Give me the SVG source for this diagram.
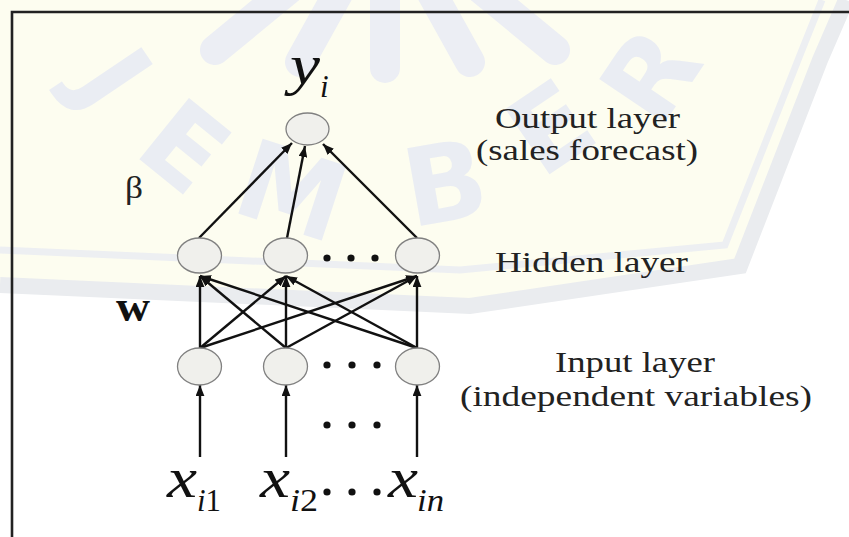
<svg xmlns="http://www.w3.org/2000/svg" width="849" height="537" viewBox="0 0 849 537">
<defs>
<style>
.wm{font-family:"DejaVu Sans","Liberation Sans",sans-serif;font-weight:bold;font-size:108px;fill:#eaedf3;text-anchor:middle}
.ray{stroke:#eceef4;stroke-width:30;stroke-linecap:round;fill:none}
.node{fill:#f0f0ec;stroke:#808080;stroke-width:1.3}
.edge{stroke:#111;stroke-width:2.4;fill:none;marker-end:url(#ah)}
.dot{fill:#111}
.lbl{font-family:"Liberation Serif","Times New Roman",serif;font-size:28.5px;fill:#222}
.math{font-family:"Liberation Serif","Times New Roman",serif;font-style:italic;fill:#111}
</style>
<marker id="ah" viewBox="0 0 10 8" refX="10" refY="4" markerWidth="11" markerHeight="9" markerUnits="userSpaceOnUse" orient="auto">
<path d="M0,0 L10,4 L0,8 z" fill="#111"/>
</marker>
</defs>
<rect width="849" height="537" fill="#ffffff"/>
<g id="watermark">
<path d="M0,0 L846,0 L820,60 L740,266 L470,306 L0,285 Z" fill="#fdfdf0"/>
<path d="M846,0 L820,60 L740,266 L470,306 L0,285" fill="none" stroke="#eaecef" stroke-width="16"/>
<path d="M822,0 L800,55 L725,245 L460,270 L0,250" fill="none" stroke="#edeff2" stroke-width="7"/>
<line class="ray" x1="300" y1="-20" x2="215" y2="50"/>
<line class="ray" x1="340" y1="-10" x2="300" y2="62"/>
<line class="ray" x1="385" y1="-10" x2="385" y2="68"/>
<line class="ray" x1="430" y1="-10" x2="470" y2="62"/>
<line class="ray" x1="470" y1="-20" x2="555" y2="50"/>
<text class="wm" transform="translate(114,78) rotate(56)" dy="0.36em">J</text>
<text class="wm" transform="translate(185,146) rotate(39)" dy="0.36em">E</text>
<text class="wm" transform="translate(292,190) rotate(18)" dy="0.36em">M</text>
<text class="wm" transform="translate(445,182) rotate(-10)" dy="0.36em">B</text>
<text class="wm" transform="translate(550,127) rotate(-34)" dy="0.36em">E</text>
<text class="wm" transform="translate(650,75) rotate(-56)" dy="0.36em">R</text>
</g>
<path id="frame" d="M12,537 L12,12 L849,12" fill="none" stroke="#222" stroke-width="2.6"/>
<g id="connectors">
<line class="edge" x1="199" y1="238" x2="292" y2="143"/>
<line class="edge" x1="287" y1="238" x2="305" y2="146"/>
<line class="edge" x1="417" y1="238" x2="323" y2="144"/>
<line class="edge" x1="200" y1="348" x2="200" y2="276"/>
<line class="edge" x1="286" y1="348" x2="200" y2="276"/>
<line class="edge" x1="417" y1="348" x2="200" y2="276"/>
<line class="edge" x1="200" y1="348" x2="286" y2="276"/>
<line class="edge" x1="286" y1="348" x2="286" y2="276"/>
<line class="edge" x1="417" y1="348" x2="286" y2="276"/>
<line class="edge" x1="200" y1="348" x2="417" y2="276"/>
<line class="edge" x1="286" y1="348" x2="417" y2="276"/>
<line class="edge" x1="417" y1="348" x2="417" y2="276"/>
<line class="edge" x1="200" y1="457" x2="200" y2="385"/>
<line class="edge" x1="286" y1="457" x2="286" y2="385"/>
<line class="edge" x1="417" y1="457" x2="417" y2="385"/>
</g>
<g id="node-output"><ellipse class="node" cx="307.5" cy="129" rx="21.5" ry="16"/></g>
<g id="node-hidden-1"><ellipse class="node" cx="199.5" cy="255.5" rx="22" ry="17.5"/></g>
<g id="node-hidden-2"><ellipse class="node" cx="285.5" cy="255.5" rx="22" ry="17.5"/></g>
<g id="node-hidden-n"><ellipse class="node" cx="417.5" cy="255.5" rx="22" ry="17.5"/></g>
<g id="node-input-1"><ellipse class="node" cx="199.5" cy="366.5" rx="22" ry="18.5"/></g>
<g id="node-input-2"><ellipse class="node" cx="285.5" cy="366.5" rx="22" ry="18.5"/></g>
<g id="node-input-n"><ellipse class="node" cx="417.5" cy="366.5" rx="22" ry="18.5"/></g>
<g id="ellipses">
<circle class="dot" cx="327" cy="258" r="3.6"/><circle class="dot" cx="351" cy="258" r="3.6"/><circle class="dot" cx="375" cy="258" r="3.6"/>
<circle class="dot" cx="327" cy="365" r="3.6"/><circle class="dot" cx="352" cy="365" r="3.6"/><circle class="dot" cx="377" cy="365" r="3.6"/>
<circle class="dot" cx="327" cy="425" r="3.6"/><circle class="dot" cx="352" cy="425" r="3.6"/><circle class="dot" cx="377" cy="425" r="3.6"/>
<circle class="dot" cx="327" cy="492" r="3.6"/><circle class="dot" cx="352" cy="492" r="3.6"/><circle class="dot" cx="377" cy="492" r="3.6"/>
</g>
<g id="math-labels">
<text class="math" x="290" y="84" font-size="56" textLength="30" lengthAdjust="spacingAndGlyphs">y</text>
<text class="math" x="320" y="97" font-size="31">i</text>
<text x="125" y="198" font-family="Liberation Serif, Times New Roman, serif" font-size="32" fill="#222" textLength="18" lengthAdjust="spacingAndGlyphs">β</text>
<text x="116" y="321" font-family="Liberation Serif, Times New Roman, serif" font-size="44" font-weight="bold" fill="#111" textLength="34" lengthAdjust="spacingAndGlyphs">w</text>
<text class="math" x="167" y="497" font-size="56" textLength="30" lengthAdjust="spacingAndGlyphs">x</text>
<text class="math" x="197" y="511" font-size="31" textLength="24" lengthAdjust="spacingAndGlyphs">i<tspan font-style="normal">1</tspan></text>
<text class="math" x="260" y="497" font-size="56" textLength="30" lengthAdjust="spacingAndGlyphs">x</text>
<text class="math" x="290" y="511" font-size="31" textLength="28" lengthAdjust="spacingAndGlyphs">i<tspan font-style="normal">2</tspan></text>
<text class="math" x="388" y="497" font-size="56" textLength="30" lengthAdjust="spacingAndGlyphs">x</text>
<text class="math" x="417" y="511" font-size="31" textLength="27" lengthAdjust="spacingAndGlyphs">in</text>
</g>
<g id="layer-labels">
<text class="lbl" x="495" y="128" textLength="185" lengthAdjust="spacingAndGlyphs">Output layer</text>
<text class="lbl" x="476" y="160" textLength="222" lengthAdjust="spacingAndGlyphs">(sales forecast)</text>
<text class="lbl" x="495" y="272" textLength="193" lengthAdjust="spacingAndGlyphs">Hidden layer</text>
<text class="lbl" x="555" y="372" textLength="160" lengthAdjust="spacingAndGlyphs">Input layer</text>
<text class="lbl" x="460" y="406" textLength="352" lengthAdjust="spacingAndGlyphs">(independent variables)</text>
</g>
</svg>
